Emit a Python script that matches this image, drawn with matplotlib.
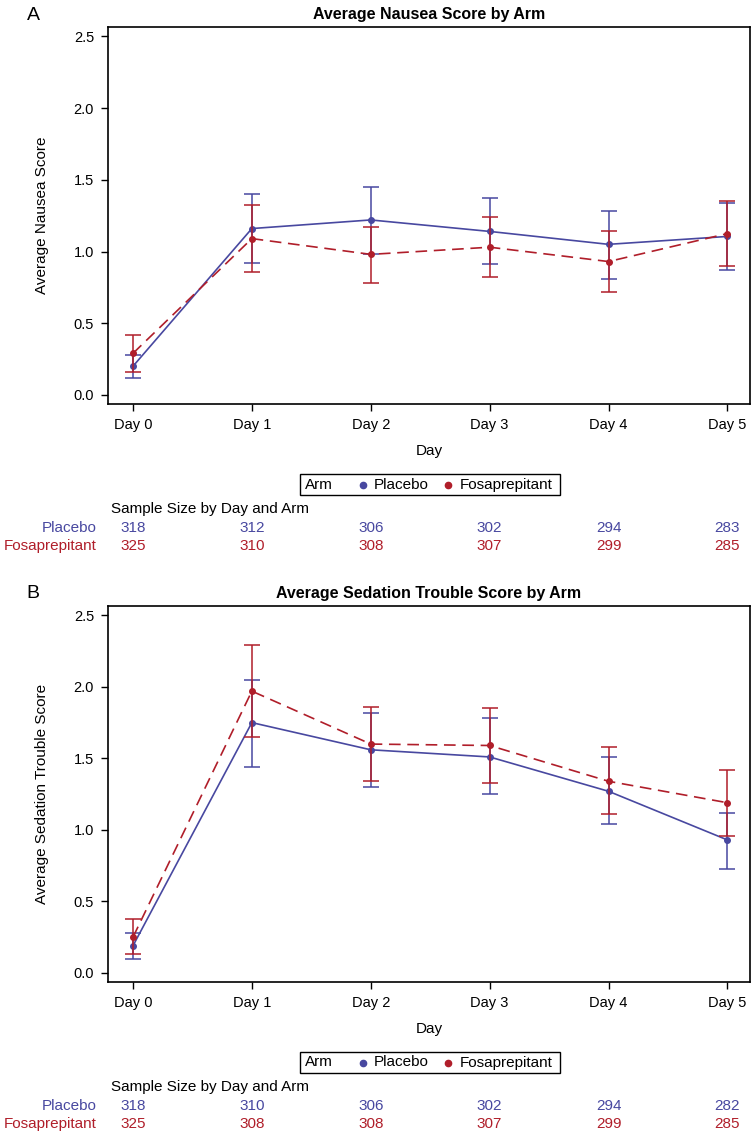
import matplotlib
matplotlib.use("Agg")
import matplotlib.pyplot as plt
from matplotlib.transforms import blended_transform_factory
from matplotlib.lines import Line2D
from matplotlib.patches import Rectangle

plt.rcParams['font.family'] = ['Liberation Sans', 'DejaVu Sans']

days = [0, 1, 2, 3, 4, 5]
day_labels = ["Day 0", "Day 1", "Day 2", "Day 3", "Day 4", "Day 5"]

# Panel A: Nausea
a_plac = [0.20, 1.16, 1.22, 1.14, 1.05, 1.105]
a_plac_hi = [0.28, 1.40, 1.45, 1.37, 1.28, 1.34]
a_plac_lo = [0.12, 0.92, 0.985, 0.91, 0.81, 0.87]
a_fosa = [0.29, 1.09, 0.98, 1.03, 0.93, 1.125]
a_fosa_hi = [0.42, 1.325, 1.17, 1.24, 1.14, 1.35]
a_fosa_lo = [0.16, 0.86, 0.78, 0.82, 0.72, 0.90]
a_n_plac = [318, 312, 306, 302, 294, 283]
a_n_fosa = [325, 310, 308, 307, 299, 285]

# Panel B: Sedation trouble
b_plac = [0.19, 1.75, 1.56, 1.51, 1.27, 0.93]
b_plac_hi = [0.28, 2.05, 1.82, 1.78, 1.51, 1.12]
b_plac_lo = [0.10, 1.44, 1.30, 1.25, 1.04, 0.73]
b_fosa = [0.25, 1.97, 1.60, 1.59, 1.34, 1.19]
b_fosa_hi = [0.38, 2.29, 1.86, 1.85, 1.58, 1.42]
b_fosa_lo = [0.13, 1.65, 1.34, 1.33, 1.11, 0.955]
b_n_plac = [318, 310, 306, 302, 294, 282]
b_n_fosa = [325, 308, 308, 307, 299, 285]

arms = ['Placebo', 'Fosaprepitant']
BLUE = '#4848A0'
RED = '#B01E2A'

fig = plt.figure(figsize=(7.52, 11.36), dpi=100)
W, H = 752, 1136

def fx(px):
    return px / W

def fy(px):
    return 1 - px / H

def panel(top_px, bot_px, letter, title, ylabel,
          plac, plac_hi, plac_lo, fosa, fosa_hi, fosa_lo, n_plac, n_fosa):
    left, right = fx(108), fx(750)
    ax = fig.add_axes([left, fy(bot_px), right - left, fy(top_px) - fy(bot_px)])
    for y, hi, lo, col, ls in [(plac, plac_hi, plac_lo, BLUE, '-'),
                               (fosa, fosa_hi, fosa_lo, RED, (0, (7, 4)))]:
        yerr = [[v - l for v, l in zip(y, lo)], [h - v for v, h in zip(y, hi)]]
        ax.errorbar(days, y, yerr=yerr, fmt='none', ecolor=col, elinewidth=1.1,
                    capsize=6, capthick=1.1)
        ax.plot(days, y, color=col, linestyle=ls, linewidth=1.2,
                marker='o', markersize=4)
    ax.set_xlim(-0.21, 5.19)
    ax.set_ylim(-0.063, 2.565)
    ax.set_xticks(days)
    ax.set_xticklabels(day_labels, fontsize=10.5)
    ax.set_yticks([0.0, 0.5, 1.0, 1.5, 2.0, 2.5])
    ax.set_yticklabels(['0.0', '0.5', '1.0', '1.5', '2.0', '2.5'], fontsize=10.5)
    ax.tick_params(length=5, width=1, pad=5)
    for s in ax.spines.values():
        s.set_linewidth(1.2)
    ax.set_xlabel('Day', fontsize=11, labelpad=9)
    ax.set_ylabel(ylabel, fontsize=11, labelpad=18)
    ax.set_title(title, fontsize=11.5, fontweight='bold', pad=6)
    fig.text(fx(33), fy(top_px - 12), letter, fontsize=14, ha='center', va='center')

    # legend box (drawn manually, title inline)
    ly0 = bot_px + 70
    ly1 = bot_px + 91
    lyc = (ly0 + ly1) / 2
    fig.add_artist(Rectangle((fx(300), fy(ly1)), fx(560) - fx(300), fy(ly0) - fy(ly1),
                             transform=fig.transFigure, facecolor='white',
                             edgecolor='black', linewidth=1.0))
    fig.text(fx(305), fy(lyc), 'Arm', fontsize=11, ha='left', va='center')
    for mx, tx, col, lab in [(363, 374, BLUE, arms[0]), (448, 460, RED, arms[1])]:
        fig.add_artist(Line2D([fx(mx)], [fy(lyc)], transform=fig.transFigure,
                              linestyle='none', marker='o', markersize=4.5,
                              color=col))
        fig.text(fx(tx), fy(lyc), lab, fontsize=11, ha='left', va='center')

    trans = blended_transform_factory(ax.transData, fig.transFigure)
    fig.text(fx(111), fy(bot_px + 105), 'Sample Size by Day and Arm',
             fontsize=11, ha='left', va='center')
    fig.text(fx(97), fy(bot_px + 124), arms[0], color=BLUE, fontsize=11,
             ha='right', va='center')
    fig.text(fx(97), fy(bot_px + 142), arms[1], color=RED, fontsize=11,
             ha='right', va='center')
    for d, npl, nfo in zip(days, n_plac, n_fosa):
        ax.text(d, fy(bot_px + 124), str(npl), color=BLUE, fontsize=11,
                ha='center', va='center', transform=trans)
        ax.text(d, fy(bot_px + 142), str(nfo), color=RED, fontsize=11,
                ha='center', va='center', transform=trans)
    return ax

panel(27, 404, 'A', 'Average Nausea Score by Arm', 'Average Nausea Score',
      a_plac, a_plac_hi, a_plac_lo, a_fosa, a_fosa_hi, a_fosa_lo, a_n_plac, a_n_fosa)
panel(606, 982, 'B', 'Average Sedation Trouble Score by Arm', 'Average Sedation Trouble Score',
      b_plac, b_plac_hi, b_plac_lo, b_fosa, b_fosa_hi, b_fosa_lo, b_n_plac, b_n_fosa)

fig.savefig('out.png', dpi=100)
